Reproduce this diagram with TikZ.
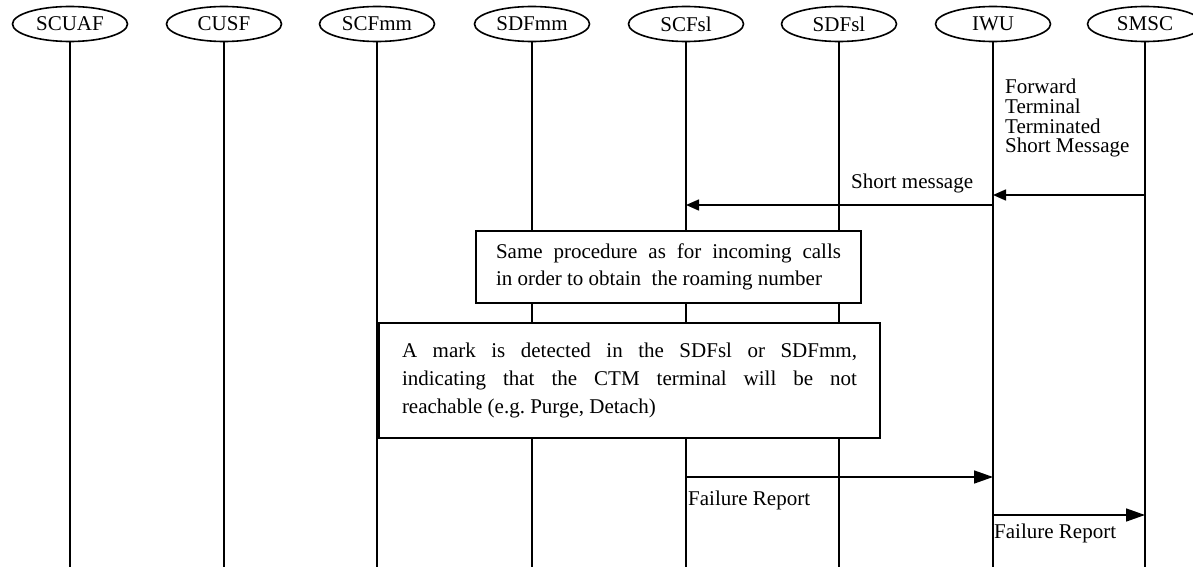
\documentclass[tikz,border=0pt]{standalone}
\usepackage{fontspec}
\setmainfont{Liberation Serif}
\usetikzlibrary{arrows.meta,shapes.geometric}
\frenchspacing
\begin{document}
\begin{tikzpicture}[x=1pt,y=-1pt,
  font=\fontsize{21}{24.5}\selectfont,
  actor/.style={ellipse,draw,line width=1.6pt,minimum width=115pt,minimum height=35pt,inner sep=0pt},
  life/.style={line width=1.6pt},
  procbox/.style={draw,fill=white,line width=1.6pt,align=left,inner ysep=0pt},
  msgsmall/.style={line width=1.6pt,-{Triangle[length=13pt,width=11pt]}},
  msgbig/.style={line width=1.6pt,-{Triangle[length=19pt,width=13pt]}},
  lbl/.style={inner sep=0pt}]
\useasboundingbox (0,0) rectangle (1193,567);

% actors
\node[actor] (scuaf) at (70,24) {SCUAF};
\node[actor] (cusf)  at (224,24) {CUSF};
\node[actor] (scfmm) at (377,24) {SCFmm};
\node[actor] (sdfmm) at (532,24) {SDFmm};
\node[actor] (scfsl) at (686,24) {SCFsl};
\node[actor] (sdfsl) at (839,24) {SDFsl};
\node[actor] (iwu)   at (993,24) {IWU};
\node[actor] (smsc)  at (1145,24) {SMSC};

% lifelines
\foreach \n in {scuaf,cusf,scfmm,sdfmm,scfsl,sdfsl,iwu,smsc}{
  \coordinate (\n-end) at (\n |- 0,567);
  \draw[life] (\n.south) -- (\n-end);
}

% messages
\node[lbl,anchor=north west,align=left,font=\fontsize{21}{19.8}\selectfont] (fwd) at (1005,78.7)
  {Forward\\Terminal\\Terminated\\Short Message};
\draw[msgsmall] (smsc |- 0,195) -- (iwu |- 0,195);
\node[lbl,anchor=base west] (shortmsg) at (851,188) {Short message};
\draw[msgsmall] (iwu |- 0,205) -- (scfsl |- 0,205);

% procedure boxes
\node[procbox,font=\fontsize{21}{27}\selectfont,inner xsep=20pt,minimum height=72pt] (proc1) at (668.5,267)
  {\makebox[345pt][s]{Same procedure as for incoming calls}\\in order to obtain\ \ the roaming number};
\node[procbox,font=\fontsize{21}{28}\selectfont,inner xsep=23pt,minimum height=115pt] (proc2) at (629.5,380.5)
  {\makebox[455pt][s]{A mark is detected in the SDFsl or SDFmm,}\\\makebox[455pt][s]{indicating that the CTM terminal will be not}\\reachable (e.g. Purge, Detach)};

% failure reports
\draw[msgbig] (scfsl |- 0,477) -- (iwu |- 0,477);
\node[lbl,anchor=base west] (fail1) at (688,505) {Failure Report};
\draw[msgbig] (iwu |- 0,515) -- (smsc |- 0,515);
\node[lbl,anchor=base west] (fail2) at (994,538) {Failure Report};
\end{tikzpicture}
\end{document}
